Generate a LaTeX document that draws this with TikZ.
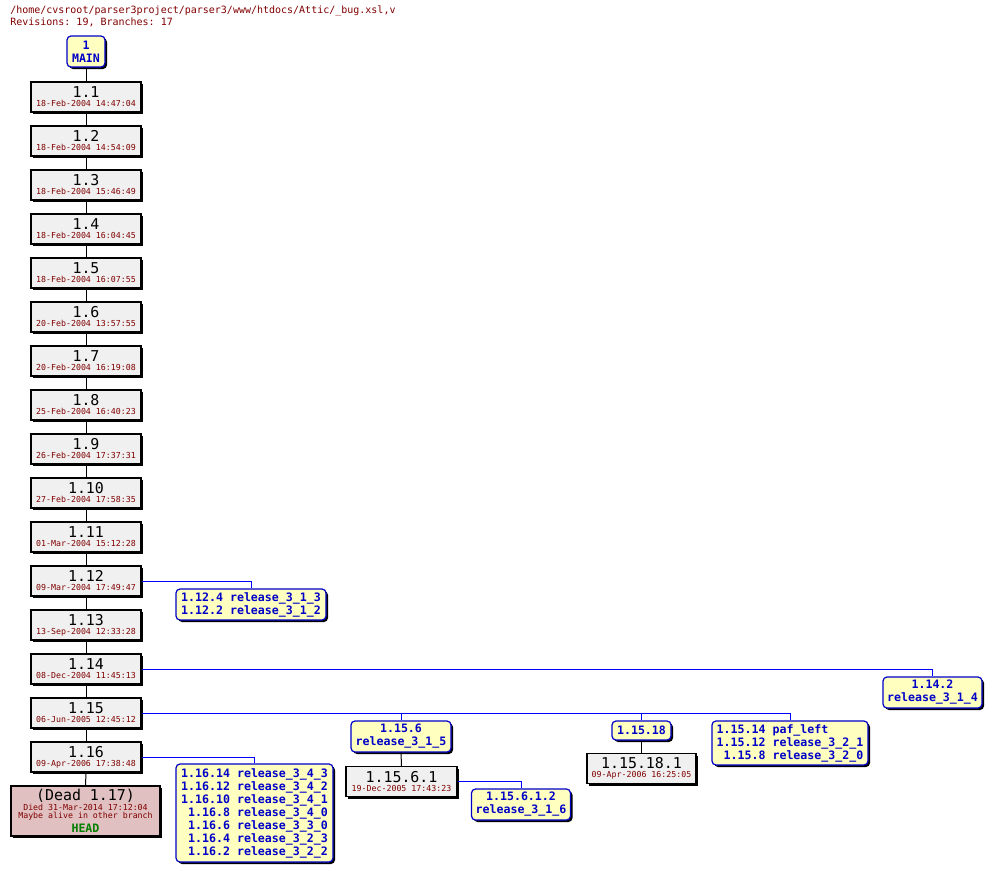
\documentclass[tikz,border=0pt]{standalone}
\usepackage{fontspec}
\setmonofont{DejaVu Sans Mono}
\usetikzlibrary{shadows}
\definecolor{hdr}{RGB}{128,0,0}
\definecolor{revfill}{RGB}{240,240,240}
\definecolor{brfill}{RGB}{255,255,192}
\definecolor{brblue}{RGB}{0,0,200}
\definecolor{lineblue}{RGB}{0,0,255}
\definecolor{deadfill}{RGB}{224,192,192}
\definecolor{headgreen}{RGB}{0,128,0}
\newcommand\revf{\fontsize{11.2}{6.75}\selectfont\ttfamily\color{black}}
\newcommand\datef{\fontsize{6.2}{6.75}\selectfont\ttfamily\color{hdr}}
\newcommand\brf{\fontsize{8.7}{9.75}\selectfont\ttfamily\bfseries\color{brblue}}
\newcommand\hdrf{\fontsize{7.5}{9}\selectfont\ttfamily\color{hdr}}
\begin{document}
\begin{tikzpicture}[x=0.75pt,y=-0.75pt,
  shad/.style={drop shadow={shadow xshift=1.5pt,shadow yshift=-1.5pt,fill=black,opacity=1}},
  revbox/.style={draw=black,fill=revfill,line width=0.9pt,inner sep=0pt,align=center,
    font=\fontsize{6.2}{6.75}\selectfont,minimum width=82.5pt,minimum height=22.5pt,shad},
  deadbox/.style={revbox,fill=deadfill,font=\fontsize{6.2}{6}\selectfont},
  brbox/.style={draw=brblue,fill=brfill,line width=0.9pt,rounded corners=3pt,inner sep=0pt,shad,font=\brf},
  revline/.style={draw=black,line width=0.75pt},
  brline/.style={draw=lineblue,line width=0.75pt}]
\useasboundingbox (0,0) rectangle (993,871);
\node[anchor=north west,inner sep=0pt,align=left,font=\hdrf] (hdr) at (10,6)
  {/home/cvsroot/parser3project/parser3/www/htdocs/Attic/\_bug.xsl,v\\Revisions: 19, Branches: 17};
\node[brbox,minimum width=28.5pt,minimum height=23.25pt,align=center] (main) at (86,51.5) {1\\MAIN};
\foreach \n/\d [count=\k from 1] in {
  1.1/18-Feb-2004 14:47:04, 1.2/18-Feb-2004 14:54:09, 1.3/18-Feb-2004 15:46:49,
  1.4/18-Feb-2004 16:04:45, 1.5/18-Feb-2004 16:07:55, 1.6/20-Feb-2004 13:57:55,
  1.7/20-Feb-2004 16:19:08, 1.8/25-Feb-2004 16:40:23, 1.9/26-Feb-2004 17:37:31,
  1.10/27-Feb-2004 17:58:35, 1.11/01-Mar-2004 15:12:28, 1.12/09-Mar-2004 17:49:47,
  1.13/13-Sep-2004 12:33:28, 1.14/08-Dec-2004 11:45:13, 1.15/06-Jun-2005 12:45:12,
  1.16/09-Apr-2006 17:38:48}
  {\node[revbox] (r\k) at (86,53+44*\k) {{\revf \n}\\{\datef \d}};}
\node[deadbox,minimum width=111.75pt,minimum height=37.5pt] (dead) at (85.5,811)
  {{\revf (Dead 1.17)}\\{\datef Died 31-Mar-2014 17:12:04}\\{\datef Maybe alive in other branch}\\[2.5pt]{\brf\color{headgreen}HEAD}};
% branch boxes
\node[brbox,minimum width=112.5pt,minimum height=23.25pt,align=left] (b112) at (251,604.5)
  {1.12.4 release\_3\_1\_3\\1.12.2 release\_3\_1\_2};
\node[brbox,minimum width=74.25pt,minimum height=23.25pt,align=center] (b114) at (932.5,692.5)
  {1.14.2\\release\_3\_1\_4};
\node[brbox,minimum width=75pt,minimum height=23.25pt,align=center] (b1156) at (401,736.5)
  {1.15.6\\release\_3\_1\_5};
\node[brbox,minimum width=44.25pt,minimum height=14.25pt,align=center] (b11518) at (641.5,730.5)
  {1.15.18};
\node[brbox,minimum width=117pt,minimum height=33pt,align=left] (b11514) at (790,743)
  {1.15.14 paf\_left\\1.15.12 release\_3\_2\_1\\\phantom{1}1.15.8 release\_3\_2\_0};
\node[revbox,minimum width=83.25pt] (r11561) at (401.5,781.5) {{\revf 1.15.6.1}\\{\datef 19-Dec-2005 17:43:23}};
\node[brbox,minimum width=74.25pt,minimum height=23.25pt,align=center] (b115612) at (521,804.5)
  {1.15.6.1.2\\release\_3\_1\_6};
\node[revbox,minimum width=81.75pt] (r115181) at (641.5,768.5) {{\revf 1.15.18.1}\\{\datef 09-Apr-2006 16:25:05}};
\node[brbox,minimum width=117.75pt,minimum height=73.5pt,align=left] (b116) at (254.5,813)
  {1.16.14 release\_3\_4\_3\\1.16.12 release\_3\_4\_2\\1.16.10 release\_3\_4\_1\\
   \phantom{1}1.16.8 release\_3\_4\_0\\\phantom{1}1.16.6 release\_3\_3\_0\\
   \phantom{1}1.16.4 release\_3\_2\_3\\\phantom{1}1.16.2 release\_3\_2\_2};
% trunk connectors
\draw[revline] (main.south) -- (r1.north);
\foreach \k [evaluate=\k as \j using int(\k+1)] in {1,...,15}
  {\draw[revline] (r\k.south) -- (r\j.north);}
\draw[revline] (r16.south) -- (dead.north);
\draw[revline] (b1156.south) -- (r11561.north);
\draw[revline] (b11518.south) -- (r115181.north);
% branch connectors
\draw[brline] (r12.east) -| (b112.north);
\draw[brline] (r14.east) -| (b114.north);
\draw[brline] (r15.east) -| (b11514.north);
\draw[brline] (b1156.north) -- (b1156.north |- r15.east);
\draw[brline] (b11518.north) -- (b11518.north |- r15.east);
\draw[brline] (r16.east) -| (b116.north);
\draw[brline] (r11561.east) -| (b115612.north);
\end{tikzpicture}
\end{document}
